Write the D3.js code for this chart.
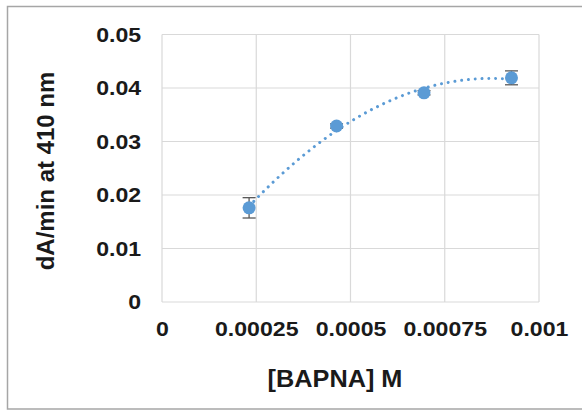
<!DOCTYPE html>
<html>
<head>
<meta charset="utf-8">
<script src="https://cdn.jsdelivr.net/npm/d3@7"></script>
<style>
  body { margin: 0; background: #fff; }
  text { font-family: "Liberation Sans", Arial, sans-serif; font-weight: bold; fill: #1a1a1a; }
</style>
</head>
<body>
<svg id="chart"></svg>
<script>
// Set up data
var concentrations = [0.000231, 0.000463, 0.000695, 0.000927]
var rates = [0.0176, 0.0329, 0.0391, 0.0419]
var rateErrors = [0.0019, 0.0004, 0.0004, 0.0013]
var xTicks = [0, 0.00025, 0.0005, 0.00075, 0.001]
var xTickLabels = ['0', '0.00025', '0.0005', '0.00075', '0.001']
var yTicks = [0, 0.01, 0.02, 0.03, 0.04, 0.05]
var yTickLabels = ['0', '0.01', '0.02', '0.03', '0.04', '0.05']
var xTitle = '[BAPNA] M'
var yTitle = 'dA/min at 410 nm'

var width = 582,
    height = 412,
    margin = { left: 162, right: 43, top: 34.5, bottom: 110 }
var blue = '#5b9bd5'

var svg = d3.select('#chart')
  .attr('width', width)
  .attr('height', height)

// Outer chart frame (only top and left edges are in view)
svg.append('rect')
  .attr('x', 7.5)
  .attr('y', 6.5)
  .attr('width', 700)
  .attr('height', 402.5)
  .attr('fill', 'none')
  .attr('stroke', '#a6a6a6')
  .attr('stroke-width', 1.5)

var x = d3.scaleLinear().domain([0, 0.001]).range([margin.left, width - margin.right])
var y = d3.scaleLinear().domain([0, 0.05]).range([height - margin.bottom, margin.top])

// Gridlines
svg.append('g')
  .selectAll('line')
  .data(yTicks)
  .enter()
  .append('line')
  .attr('x1', x(0))
  .attr('x2', x(0.001))
  .attr('y1', function (d) { return y(d) })
  .attr('y2', function (d) { return y(d) })
  .attr('stroke', '#d9d9d9')
  .attr('stroke-width', 1.2)

svg.append('g')
  .selectAll('line')
  .data(xTicks)
  .enter()
  .append('line')
  .attr('x1', function (d) { return x(d) })
  .attr('x2', function (d) { return x(d) })
  .attr('y1', y(0))
  .attr('y2', y(0.05))
  .attr('stroke', '#d9d9d9')
  .attr('stroke-width', 1.2)

// Axes (labels only, lines come from the grid)
var xAxis = svg.append('g')
  .attr('transform', 'translate(0,' + y(0) + ')')
  .call(d3.axisBottom(x).tickValues(xTicks).tickSize(0).tickPadding(19)
    .tickFormat(function (d, i) { return xTickLabels[i] }))
xAxis.select('.domain').remove()
xAxis.selectAll('text')
  .attr('font-size', 21)
  .attr('font-family', null)
  .attr('fill', '#1a1a1a')
  .attr('transform', 'scale(1.1,1)')

var yAxis = svg.append('g')
  .attr('transform', 'translate(' + x(0) + ',0)')
  .call(d3.axisLeft(y).tickValues(yTicks).tickSize(0).tickPadding(19)
    .tickFormat(function (d, i) { return yTickLabels[i] }))
yAxis.select('.domain').remove()
yAxis.selectAll('text')
  .attr('font-size', 21)
  .attr('font-family', null)
  .attr('fill', '#1a1a1a')
  .attr('transform', 'scale(1.1,1)')

// Axis titles
svg.append('text')
  .attr('transform', 'translate(335,387) scale(1.1,1)')
  .attr('text-anchor', 'middle')
  .attr('font-size', 23)
  .text(xTitle)

svg.append('text')
  .attr('transform', 'translate(54,171) rotate(-90)')
  .attr('text-anchor', 'middle')
  .attr('font-size', 24)
  .text(yTitle)

// Second order polynomial trendline, least squares (x in mM for conditioning)
function quadFit (xs, ys) {
  var s = [0, 0, 0, 0, 0], t = [0, 0, 0]
  xs.forEach(function (xv, i) {
    for (var k = 0; k < 5; k++) s[k] += Math.pow(xv, k)
    for (var j = 0; j < 3; j++) t[j] += Math.pow(xv, j) * ys[i]
  })
  var A = [[s[0], s[1], s[2], t[0]], [s[1], s[2], s[3], t[1]], [s[2], s[3], s[4], t[2]]]
  for (var c = 0; c < 3; c++) {
    for (var r = c + 1; r < 3; r++) {
      var f = A[r][c] / A[c][c]
      for (var q = c; q < 4; q++) A[r][q] -= f * A[c][q]
    }
  }
  var b = [0, 0, 0]
  for (var r2 = 2; r2 >= 0; r2--) {
    var v = A[r2][3]
    for (var q2 = r2 + 1; q2 < 3; q2++) v -= A[r2][q2] * b[q2]
    b[r2] = v / A[r2][r2]
  }
  return b
}
var mM = concentrations.map(function (d) { return d * 1000 })
var coef = quadFit(mM, rates)
var trend = d3.range(0, 101).map(function (i) {
  var xv = mM[0] + (mM[mM.length - 1] - mM[0]) * i / 100
  return [xv / 1000, coef[0] + coef[1] * xv + coef[2] * xv * xv]
})

svg.append('path')
  .datum(trend)
  .attr('d', d3.line()
    .x(function (d) { return x(d[0]) })
    .y(function (d) { return y(d[1]) }))
  .attr('fill', 'none')
  .attr('stroke', blue)
  .attr('stroke-width', 3)
  .attr('stroke-linecap', 'round')
  .attr('stroke-dasharray', '0.01 6.8')

// Error bars
var errs = svg.append('g')
  .attr('stroke', '#595959')
  .attr('stroke-width', 1.3)
  .selectAll('g')
  .data(concentrations)
  .enter()
  .append('g')
errs.append('line')
  .attr('x1', function (d) { return x(d) })
  .attr('x2', function (d) { return x(d) })
  .attr('y1', function (d, i) { return y(rates[i] - rateErrors[i]) })
  .attr('y2', function (d, i) { return y(rates[i] + rateErrors[i]) })
errs.selectAll('.cap')
  .data(function (d, i) { return [[d, rates[i] - rateErrors[i]], [d, rates[i] + rateErrors[i]]] })
  .enter()
  .append('line')
  .attr('class', 'cap')
  .attr('x1', function (d) { return x(d[0]) - 6.5 })
  .attr('x2', function (d) { return x(d[0]) + 6.5 })
  .attr('y1', function (d) { return y(d[1]) })
  .attr('y2', function (d) { return y(d[1]) })

// Markers
svg.append('g')
  .selectAll('circle')
  .data(concentrations)
  .enter()
  .append('circle')
  .attr('cx', function (d) { return x(d) })
  .attr('cy', function (d, i) { return y(rates[i]) })
  .attr('r', 6.5)
  .attr('fill', blue)
</script>
</body>
</html>
